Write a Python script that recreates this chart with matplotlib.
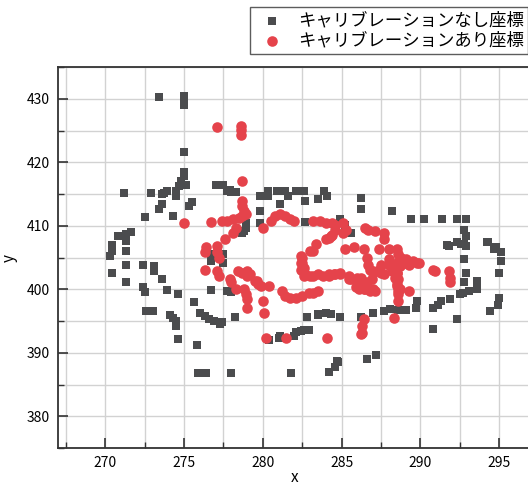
import matplotlib
matplotlib.use("Agg")
import matplotlib.pyplot as plt
from matplotlib.ticker import MultipleLocator

plt.rcParams.update({
    "font.family": ["Noto Sans CJK JP", "DejaVu Sans"],
    "font.size": 10,
    "axes.unicode_minus": False,
})

# raw (uncalibrated) coordinates
raw_x = [
    273.4, 275.0, 275.0, 275.0, 275.0, 275.0, 275.0, 275.1, 274.8, 274.7, 274.5, 274.5,
    273.9, 273.75, 273.6, 272.9, 271.2, 273.6, 273.4, 275.3, 275.5, 272.5, 274.3, 271.6,
    271.3, 271.3, 271.3, 270.8, 270.4, 270.4, 270.3, 277.0, 277.5, 277.7, 278.0, 278.3,
    278.9, 278.9, 278.7, 279.8, 279.8, 279.8,
    270.4, 271.3, 271.3, 272.4, 273.1, 273.1, 273.6, 272.4, 272.5, 273.9, 274.6, 272.6,
    273.0, 274.1, 274.3, 274.5, 274.5, 274.6, 275.8, 275.6, 276.0, 276.3, 276.6, 276.9,
    277.3, 275.9, 276.4, 278.0, 278.2, 276.7, 277.7, 278.0, 276.7, 276.8, 277.5, 277.5,
    291.8, 292.6, 292.9, 294.2, 294.7, 295.1, 295.1, 295.0, 295.0, 294.9, 294.4, 292.8,
    292.9, 292.8, 292.7, 292.5, 291.9, 291.3, 291.1, 290.8, 293.6, 293.6, 293.1, 292.3,
    290.8, 289.8, 289.7, 289.1, 288.6, 288.1, 287.7, 287.0, 286.2, 287.2, 286.6, 284.8,
    284.6, 284.2, 281.8, 284.9, 284.3, 284.0, 283.5, 282.8, 282.9, 282.6, 282.1, 282.0,
    281.0, 280.4,
    280.3, 280.3, 280.9, 281.4, 281.6, 282.1, 282.6, 282.7, 283.5, 283.9, 284.1, 281.1,
    286.2, 286.2, 288.2, 289.4, 290.2, 291.4, 292.3, 292.9, 292.8, 292.9, 292.8, 291.7,
    292.3, 294.3, 294.8, 282.7, 284.9, 285.2, 285.6, 277.9, 278.8, 278.8, 277.8, 277.4,
    281.1, 282.4, 283.5, 284.7,
]
raw_y = [
    430.3, 430.4, 429.7, 429.1, 421.7, 418.5, 417.8, 416.5, 417.0, 416.3, 415.5, 414.7,
    415.5, 415.2, 415.0, 415.2, 415.1, 413.5, 412.6, 413.1, 413.7, 411.4, 411.5, 409.1,
    408.7, 407.6, 406.0, 408.4, 407.0, 406.0, 405.2, 416.4, 416.4, 415.5, 415.3, 415.3,
    410.5, 409.7, 408.9, 414.7, 412.3, 410.5,
    402.5, 403.8, 401.2, 403.8, 403.7, 402.9, 401.6, 400.3, 399.6, 399.9, 399.2, 396.6,
    396.6, 395.9, 395.5, 395.0, 394.2, 392.2, 391.2, 398.0, 396.3, 395.8, 395.3, 395.0,
    394.5, 386.9, 386.9, 386.9, 395.7, 399.9, 399.7, 399.6, 404.5, 405.5, 404.1, 405.5,
    406.9, 407.1, 406.8, 407.4, 406.3, 405.8, 404.5, 402.6, 398.7, 397.6, 396.6, 404.7,
    402.6, 401.1, 399.5, 399.2, 398.4, 398.2, 397.6, 397.1, 401.3, 400.0, 399.7, 395.4,
    393.8, 398.2, 397.1, 396.7, 396.7, 396.9, 396.6, 396.2, 395.7, 389.6, 389.1, 388.6,
    387.8, 387.0, 386.9, 395.7, 396.1, 396.2, 395.9, 395.7, 393.6, 393.6, 393.3, 392.6,
    392.4, 392.1,
    415.5, 414.7, 415.5, 415.5, 414.7, 415.5, 415.5, 413.9, 414.2, 415.5, 414.7, 413.4,
    414.4, 412.6, 412.3, 411.1, 411.1, 411.1, 411.1, 411.1, 409.4, 408.4, 407.1, 407.0,
    407.4, 407.4, 406.6, 410.6, 411.1, 410.2, 408.9, 415.7, 411.0, 409.2, 399.7, 394.8,
    392.6, 393.4, 396.1, 388.7,
]

# calibrated coordinates
cal_x = [
    275.0, 277.1, 278.6, 278.6, 278.6, 278.7, 278.7, 278.7, 278.8, 278.9, 278.7, 278.5,
    278.1, 277.7, 277.4, 276.7, 278.3, 278.1, 277.6, 280.0, 276.4, 276.3, 277.1, 277.1,
    277.2, 276.3, 277.1, 277.2, 277.9, 278.0, 278.3, 278.8, 278.9, 279.0, 279.0, 278.4,
    279.0, 279.0, 279.6, 279.9, 278.7, 279.2, 279.5, 279.7, 280.4, 280.0, 280.1, 281.2,
    281.4, 281.7, 282.1, 282.5, 282.9, 283.2, 283.5, 280.2, 281.5, 284.1, 282.7, 283.2,
    283.8, 284.2, 284.6, 282.4,
    280.8, 281.1, 281.4, 281.7, 282.0, 280.5, 283.2, 283.6, 284.0, 284.4, 284.6, 284.3,
    284.0, 283.4, 283.2, 283.0, 282.4, 282.4, 282.6,
    284.6, 285.1, 285.3, 285.1, 284.2, 284.4, 286.5, 286.7, 287.1, 287.7, 287.7, 285.2,
    285.8, 286.4, 286.6, 286.7, 286.8, 287.4, 288.0, 288.5, 288.6, 288.8, 289.0, 289.3,
    289.9, 290.8, 288.0, 288.5, 288.7, 288.5, 288.2, 287.5, 287.0, 284.9, 285.5, 286.2,
    285.5, 286.0, 286.2, 285.9, 286.4, 286.8, 287.1, 286.6, 286.9, 287.7, 288.4, 288.5,
    288.7, 288.6, 289.3, 288.6, 288.3, 286.4, 286.3, 286.3,
    290.9, 291.8, 291.9, 291.9, 289.8, 289.5, 289.1, 288.7, 286.2,
    282.5, 282.5, 282.5, 282.6, 283.0, 283.5, 284.2, 284.5, 284.9, 285.6, 286.1, 286.1,
    286.5, 287.0, 287.0, 287.4, 287.5, 288.0, 288.4, 288.5, 288.6, 288.5, 288.6,
]
cal_y = [
    410.5, 425.6, 425.7, 425.1, 424.3, 417.0, 413.9, 413.1, 412.3, 411.8, 411.5, 411.3,
    411.0, 410.8, 410.8, 410.6, 409.6, 408.9, 408.0, 409.6, 406.6, 405.8, 406.8, 405.8,
    405.0, 403.0, 402.9, 402.1, 401.6, 401.1, 400.0, 400.0, 399.2, 398.4, 397.1, 402.9,
    402.9, 402.1, 401.3, 400.5, 402.6, 402.4, 401.3, 400.8, 400.5, 398.2, 396.3, 399.7,
    398.9, 398.7, 398.7, 398.9, 399.5, 399.5, 399.7, 392.4, 392.4, 392.4, 402.4, 402.1,
    402.1, 402.1, 402.4, 403.1,
    411.5, 411.8, 411.5, 411.0, 410.8, 410.8, 410.8, 410.8, 410.5, 410.5, 409.4, 408.4,
    407.9, 407.1, 406.0, 406.0, 405.2, 404.2, 403.4,
    410.2, 410.5, 409.4, 408.9, 408.1, 408.6, 409.7, 409.4, 409.2, 408.9, 407.9, 406.3,
    406.6, 406.3, 405.0, 403.9, 403.1, 406.3, 406.3, 406.3, 405.5, 405.0, 404.2, 403.9,
    404.2, 403.0, 404.7, 404.2, 403.7, 402.6, 402.9, 402.6, 402.6, 402.4, 402.1, 401.8,
    401.6, 401.8, 400.8, 400.3, 400.0, 399.7, 399.7, 401.1, 401.6, 402.4, 401.8, 400.8,
    400.0, 399.2, 399.7, 398.2, 395.5, 395.3, 394.2, 393.2,
    402.9, 402.9, 401.8, 401.1, 404.2, 404.5, 404.7, 405.0, 392.9,
    405.0, 404.2, 403.1, 402.1, 402.1, 402.4, 402.4, 402.4, 402.6, 401.6, 401.1, 400.0,
    400.0, 400.0, 402.9, 403.1, 403.9, 403.9, 403.7, 402.6, 401.6, 400.5, 399.7,
]

labels = ["キャリブレーションなし座標", "キャリブレーションあり座標"]
GRAY = "#4b4c4e"
RED = "#e5434b"

fig = plt.figure(figsize=(5.28, 4.86), dpi=100)
ax = fig.add_axes([0.110, 0.078, 0.895, 0.784])

ax.scatter(raw_x, raw_y, marker="s", s=40, color=GRAY, linewidths=0,
           label=labels[0], zorder=3)
ax.scatter(cal_x, cal_y, marker="o", s=58, color=RED, linewidths=0,
           label=labels[1], zorder=4)

ax.set_xlim(267, 297)
ax.set_ylim(375, 435)
ax.xaxis.set_major_locator(MultipleLocator(5))
ax.xaxis.set_minor_locator(MultipleLocator(2.5))
ax.yaxis.set_major_locator(MultipleLocator(10))
ax.yaxis.set_minor_locator(MultipleLocator(5))

ax.grid(which="both", color="#d2d2d2", linewidth=1.0, zorder=0)
ax.set_axisbelow(True)

for side in ["left", "bottom", "top"]:
    ax.spines[side].set_color("#333333")
    ax.spines[side].set_linewidth(1.3)
ax.spines["right"].set_visible(False)

ax.tick_params(which="major", direction="in", length=7, width=1.2,
               color="#333333", labelsize=10, pad=6)
ax.tick_params(which="minor", direction="in", length=4, width=1.0,
               color="#333333")
ax.tick_params(top=False, right=False, which="both")

ax.set_xlabel("x", fontsize=11, labelpad=-1)
ax.set_ylabel("y", fontsize=11, labelpad=6)

leg = fig.legend(loc="upper right", bbox_to_anchor=(1.0, 0.986),
                 fontsize=12.5, frameon=True, fancybox=False,
                 edgecolor="#333333", borderpad=0.25, handletextpad=0.5,
                 labelspacing=0.12, borderaxespad=0, markerscale=1.0)
leg.get_frame().set_linewidth(1.0)

fig.savefig("out.png", dpi=100)
